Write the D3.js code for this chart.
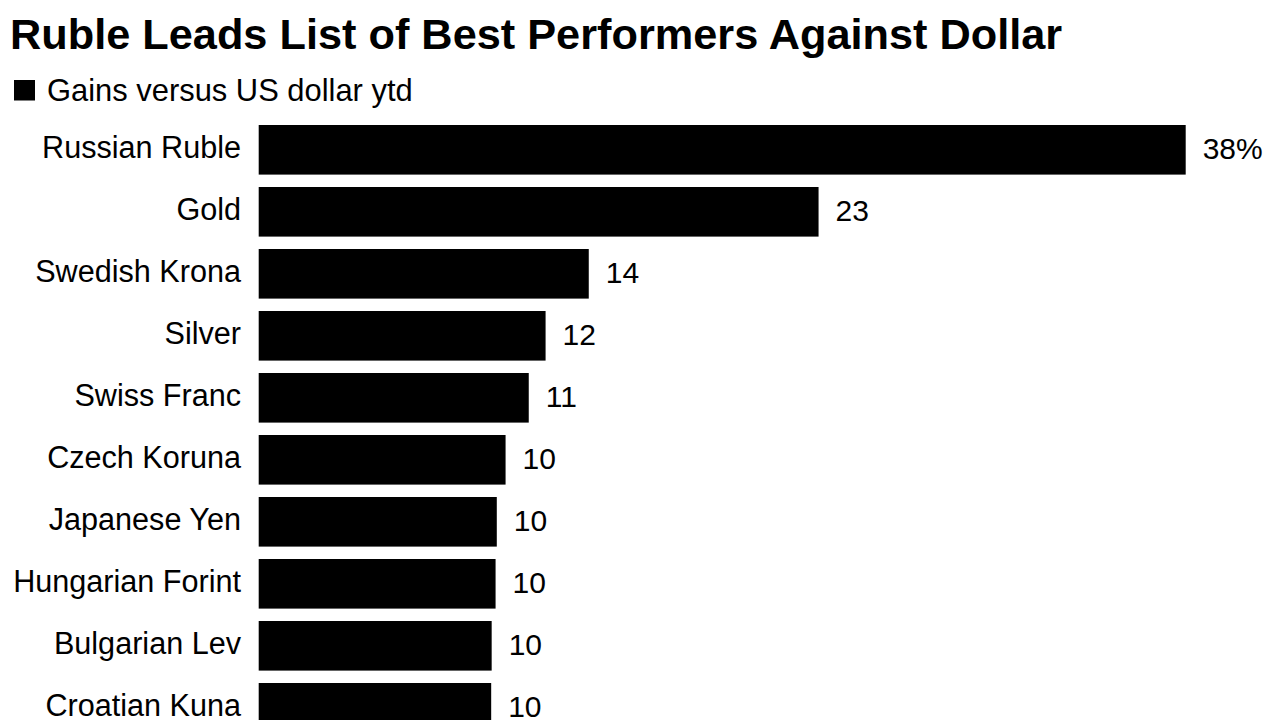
<!DOCTYPE html>
<html>
<head>
<meta charset="utf-8">
<script src="https://cdnjs.cloudflare.com/ajax/libs/d3/7.8.5/d3.min.js"></script>
<style>
  html, body { margin: 0; padding: 0; background: #fff; overflow: hidden; }
  text { font-family: "Liberation Sans", Arial, sans-serif; fill: #000; }
</style>
</head>
<body>
<svg id="chart" width="1280" height="720"></svg>
<script>
const categories = ["Russian Ruble", "Gold", "Swedish Krona", "Silver", "Swiss Franc",
  "Czech Koruna", "Japanese Yen", "Hungarian Forint", "Bulgarian Lev", "Croatian Kuna"];
const gains = [38, 22.95, 13.53, 11.76, 11.07, 10.12, 9.76, 9.71, 9.55, 9.53];
const valueLabels = ["38%", "23", "14", "12", "11", "10", "10", "10", "10", "10"];

const title = "Ruble Leads List of Best Performers Against Dollar";
const legendLabel = "Gains versus US dollar ytd";

const svg = d3.select("#chart");

const x = d3.scaleLinear().domain([0, 38]).range([258.7, 1185.7]);
// 62px per row, the last bar runs off the bottom of the picture
const y = d3.scaleBand().domain(categories).range([125, 732.6]).paddingInner(0.2).paddingOuter(0);

svg.append("text")
  .attr("x", 10).attr("y", 48.5)
  .attr("font-size", 43.3).attr("font-weight", 700)
  .text(title);

svg.append("rect").attr("x", 14).attr("y", 80).attr("width", 21).attr("height", 20.5);
svg.append("text")
  .attr("x", 47).attr("y", 100.5)
  .attr("font-size", 30.9)
  .text(legendLabel);

svg.selectAll("rect.bar").data(categories).join("rect")
  .attr("class", "bar")
  .attr("x", x(0))
  .attr("y", d => y(d))
  .attr("width", (d, i) => x(gains[i]) - x(0))
  .attr("height", y.bandwidth())
  .attr("fill", "#000");

svg.selectAll("text.cat").data(categories).join("text")
  .attr("class", "cat")
  .attr("x", 241)
  .attr("y", d => y(d) + y.bandwidth() / 2 + 8)
  .attr("text-anchor", "end")
  .attr("font-size", 30.6)
  .text(d => d);

svg.selectAll("text.val").data(categories).join("text")
  .attr("class", "val")
  .attr("x", (d, i) => x(gains[i]) + 17)
  .attr("y", d => y(d) + y.bandwidth() / 2 + 9)
  .attr("font-size", 30)
  .text((d, i) => valueLabels[i]);
</script>
</body>
</html>
